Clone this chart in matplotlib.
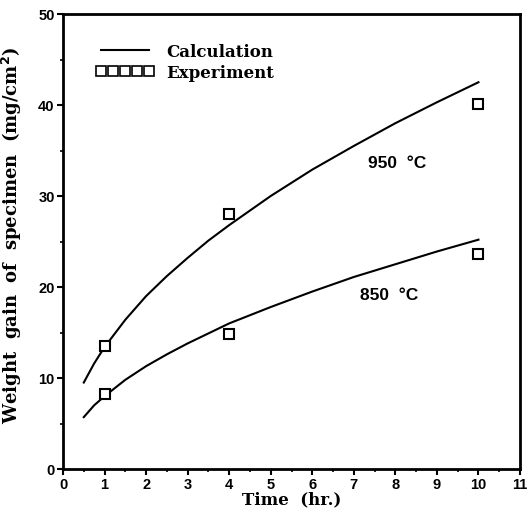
import matplotlib
matplotlib.use("Agg")
import matplotlib.pyplot as plt
from matplotlib.lines import Line2D
from matplotlib.ticker import MultipleLocator

# calculated curves
t_calc = [0.5, 0.75, 1, 1.5, 2, 2.5, 3, 3.5, 4, 5, 6, 7, 8, 9, 10]
calc_950 = [9.5, 11.6, 13.4, 16.4, 19.0, 21.2, 23.2, 25.1, 26.8, 30.0, 32.9, 35.5, 38.0, 40.3, 42.5]
calc_850 = [5.7, 7.0, 8.0, 9.8, 11.3, 12.6, 13.8, 14.9, 16.0, 17.8, 19.5, 21.1, 22.5, 23.9, 25.2]

# experiment points
t_exp = [1, 4, 10]
exp_950 = [13.5, 28.0, 40.1]
exp_850 = [8.2, 14.8, 23.6]

SERIF = 'DejaVu Serif'
SANS = 'Liberation Sans'

fig = plt.figure(figsize=(5.31, 5.10), dpi=100)
ax = fig.add_axes([63/531, 40/510, 457/531, 455/510])

ax.plot(t_calc, calc_950, color='black', lw=1.5)
ax.plot(t_calc, calc_850, color='black', lw=1.5)
ax.plot(t_exp, exp_950, 's', mfc='white', mec='black', ms=6.5, mew=1.5)
ax.plot(t_exp, exp_850, 's', mfc='white', mec='black', ms=6.5, mew=1.5)

ax.set_xlim(0, 11)
ax.set_ylim(0, 50)
ax.xaxis.set_major_locator(MultipleLocator(1))
ax.xaxis.set_minor_locator(MultipleLocator(0.5))
ax.yaxis.set_major_locator(MultipleLocator(10))
ax.yaxis.set_minor_locator(MultipleLocator(5))
ax.tick_params(which='major', direction='out', length=4, width=1.5)
ax.tick_params(which='minor', direction='out', length=2.5, width=1.2)
for lab in ax.get_xticklabels() + ax.get_yticklabels():
    lab.set_fontfamily(SANS)
    lab.set_fontweight('bold')
    lab.set_fontsize(10.5)
ax.tick_params(axis='x', pad=1.5)
ax.tick_params(axis='y', pad=2)
for s in ax.spines.values():
    s.set_linewidth(2)

ax.set_xlabel('Time  (hr.)', fontfamily=SERIF, fontweight='bold', fontsize=12, labelpad=0)
ax.xaxis.set_label_coords(0.5, -0.047)
ax.set_ylabel('Weight  gain  of  specimen  (mg/cm$^{\\mathbf{2}}$)', fontfamily=SERIF,
              fontweight='bold', fontsize=13)
ax.yaxis.set_label_coords(-0.086, 0.515)

ax.text(7.34, 33.7, '950  °C', fontfamily=SANS, fontweight='bold', fontsize=12.5, va='center')
ax.text(7.15, 19.2, '850  °C', fontfamily=SANS, fontweight='bold', fontsize=12.5, va='center')

handles = [Line2D([], [], color='black', lw=1.5),
           Line2D([], [], ls='none', marker='s', mfc='white', mec='black', ms=6.5, mew=1.2)]
leg = ax.legend(handles, ['Calculation', 'Experiment'], loc='upper left', bbox_to_anchor=(0.072, 0.937),
                frameon=False, numpoints=5, handlelength=3.5, handletextpad=0.7, labelspacing=0.25,
                borderpad=0, borderaxespad=0,
                prop={'family': SERIF, 'weight': 'bold', 'size': 12})

fig.savefig('out.png', dpi=100)
